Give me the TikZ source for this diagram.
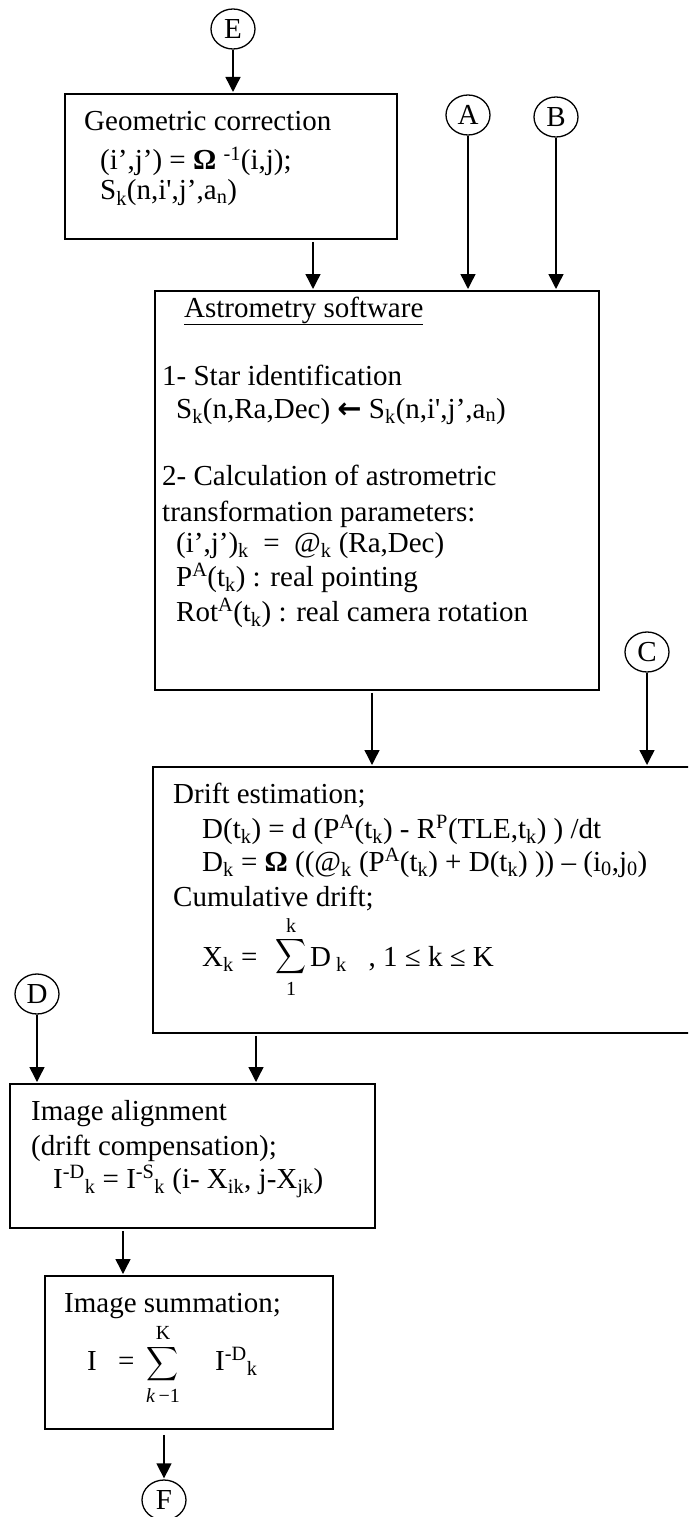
\documentclass[tikz,border=0pt]{standalone}
\usepackage{graphicx}
\usepackage{fontspec}
\setmainfont{Liberation Serif}
\newfontfamily\dejavu{DejaVu Sans}
\usetikzlibrary{arrows.meta,shapes.geometric}
\begin{document}
\begin{tikzpicture}[x=1pt,y=-1pt,
  box/.style={draw,line width=1.8pt,anchor=north west,inner sep=0pt},
  conn/.style={draw,ellipse,line width=1.3pt,minimum width=44pt,minimum height=40pt,inner sep=0pt,font=\fontsize{29}{30}\selectfont},
  txt/.style={anchor=base west,inner sep=0pt,font=\fontsize{29}{30}\selectfont},
  lim/.style={anchor=base,inner sep=0pt,font=\fontsize{20}{22}\selectfont},
  sig/.style={inner sep=0pt},
  arr/.style={line width=1.4pt,-{Triangle[length=15pt,width=15pt]},shorten >=1pt},
]
\useasboundingbox (0,0) rectangle (688,1517);
\clip (0,0) rectangle (688,1517);

% boxes
\node[box,minimum width=332pt,minimum height=145pt] (geom) at (64,93) {};
\node[box,minimum width=444pt,minimum height=399pt] (astro) at (154,290) {};
\node[box,minimum width=560pt,minimum height=266pt] (drift) at (152,766) {};
\node[box,minimum width=365pt,minimum height=144pt] (align) at (9,1083) {};
\node[box,minimum width=288pt,minimum height=153pt] (summ) at (44,1275) {};

% connectors (circles)
\node[conn] (E) at (233,29) {E};
\node[conn] (A) at (468,115) {A};
\node[conn] (B) at (556,117) {B};
\node[conn] (C) at (647,652) {C};
\node[conn] (D) at (37,994) {D};
\node[conn] (F) at (164,1500) {F};

% geometric correction text
\node[txt] (g1) at (84,131) {Geometric correction};
\node[txt] (g2) at (100,170) {(i’,j’) = \textbf{Ω} \textsuperscript{-1}(i,j);};
\node[txt] (g3) at (100,200) {S\textsubscript{k}(n,i\textquotesingle,j’,a\textsubscript{n})};

% astrometry text
\node[txt] (a0) at (184,317) {\underline{Astrometry software}};
\node[txt] (a1) at (162,385) {1- Star identification};
\node[txt] (a2) at (176,418) {S\textsubscript{k}(n,Ra,Dec) {\dejavu\bfseries ←} S\textsubscript{k}(n,i\textquotesingle,j’,a\textsubscript{n})};
\node[txt] (a3) at (162,485) {2- Calculation of astrometric};
\node[txt] (a4) at (162,521) {transformation parameters:};
\node[txt] (a5) at (176,552) {(i’,j’)\textsubscript{k} \ = \ @\textsubscript{k} (Ra,Dec)};
\node[txt] (a6) at (176,586) {P\textsuperscript{A}(t\textsubscript{k}) : real pointing};
\node[txt] (a7) at (176,621) {Rot\textsuperscript{A}(t\textsubscript{k}) : real camera rotation};

% drift text
\node[txt] (d1) at (173,803) {Drift estimation;};
\node[txt] (d2) at (202,838) {D(t\textsubscript{k}) = d (P\textsuperscript{A}(t\textsubscript{k}) - R\textsuperscript{P}(TLE,t\textsubscript{k}) ) /dt};
\node[txt] (d3) at (202,871) {D\textsubscript{k} = \textbf{Ω} ((@\textsubscript{k} (P\textsuperscript{A}(t\textsubscript{k}) + D(t\textsubscript{k}) )) – (i\textsubscript{0},j\textsubscript{0})};
\node[txt] (d4) at (173,906) {Cumulative drift;};
\node[txt] (x1) at (202,966) {X\textsubscript{k} =};
\node[sig] (xs) at (291,957) {\resizebox*{31pt}{39pt}{$\displaystyle\sum$}};
\node[lim] (xt) at (291,932) {k};
\node[lim] (xb) at (291,995) {1};
\node[txt] (x2) at (310,966) {D\textsubscript{ k}\ \ \ , 1 ≤ k ≤ K};

% alignment text
\node[txt] (l1) at (31,1120) {Image alignment};
\node[txt] (l2) at (31,1155) {(drift compensation);};
\node[txt] (l3) at (53,1188) {I\textsuperscript{-D}\textsubscript{k} = I\textsuperscript{-S}\textsubscript{k} (i- X\textsubscript{ik}, j-X\textsubscript{jk})};

% summation text
\node[txt] (s1) at (64,1312) {Image summation;};
\node[txt] (s2) at (87,1370) {I};
\node[txt] (s3) at (118,1370) {=};
\node[sig] (ss) at (163,1364) {\resizebox*{32pt}{38pt}{$\displaystyle\sum$}};
\node[lim] (st) at (163,1339) {K};
\node[lim] (sb) at (163,1402) {\textit{k}\,−1};
\node[txt] (s4) at (215,1370) {I\textsuperscript{-D}\textsubscript{k}};

% arrow columns
\coordinate (cga) at (313,0);
\coordinate (cad) at (372,0);
\coordinate (cdl) at (256,0);
\coordinate (cls) at (123,0);
\coordinate (csf) at (164,0);

\draw[arr] (E) -- (E |- geom.north);
\draw[arr] ([yshift=-2pt]cga |- geom.south) -- (cga |- astro.north);
\draw[arr] (A) -- (A |- astro.north);
\draw[arr] (B) -- (B |- astro.north);
\draw[arr] ([yshift=-2pt]cad |- astro.south) -- (cad |- drift.north);
\draw[arr] (C) -- (C |- drift.north);
\draw[arr] ([yshift=-2pt]cdl |- drift.south) -- (cdl |- align.north);
\draw[arr] (D) -- (D |- align.north);
\draw[arr] ([yshift=-2pt]cls |- align.south) -- (cls |- summ.north);
\draw[arr] ([yshift=-5pt]csf |- summ.south) -- (F);
\end{tikzpicture}
\end{document}
